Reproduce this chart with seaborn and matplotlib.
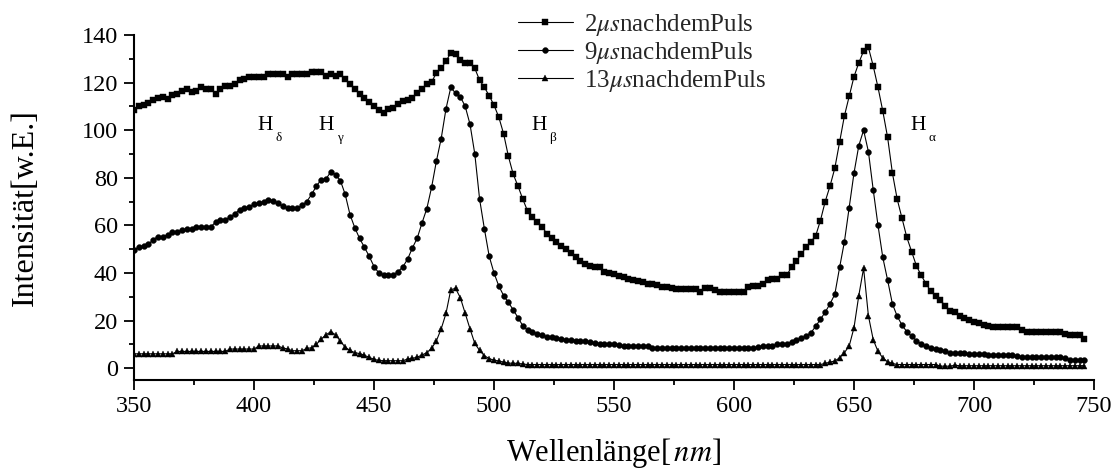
import numpy as np
import matplotlib
matplotlib.use("Agg")
import matplotlib.pyplot as plt
from matplotlib.ticker import MultipleLocator
import seaborn as sns

# Emission intensity [w.E.], 2 us after the pulse (one row = 10 nm, 2 nm steps)
intensity_2us = [
    108.5, 110.0, 110.4, 111.5, 112.8,   # 350
    113.5, 114.0, 113.3, 114.7, 115.4,   # 360
    116.5, 117.5, 116.0, 116.5, 118.0,   # 370
    117.5, 117.5, 115.4, 117.5, 118.5,   # 380
    118.5, 119.5, 121.0, 121.7, 122.4,   # 390
    122.4, 122.4, 122.4, 123.5, 123.5,   # 400
    123.5, 123.5, 122.4, 123.5, 123.5,   # 410
    123.5, 123.5, 124.4, 124.4, 124.4,   # 420
    122.7, 123.5, 122.7, 123.5, 121.5,   # 430
    119.5, 117.5, 115.0, 113.5, 112.0,   # 440
    110.3, 108.5, 107.3, 108.7, 109.5,   # 450
    111.0, 112.3, 112.5, 113.5, 115.5,   # 460
    117.5, 119.5, 120.3, 124.0, 126.0,   # 470
    129.0, 132.5, 132.2, 129.5, 128.3,   # 480
    128.3, 126.0, 121.0, 118.0, 114.5,   # 490
    110.5, 105.5, 98.5, 89.0, 81.5,      # 500
    76.5, 71.0, 66.0, 63.5, 61.5,        # 510
    59.5, 56.5, 54.5, 53.0, 51.5,        # 520
    50.0, 48.5, 46.7, 45.0, 43.8,        # 530
    43.0, 42.6, 42.3, 40.5, 40.1,        # 540
    39.5, 38.7, 38.1, 37.6, 37.1,        # 550
    36.6, 36.0, 35.3, 35.3, 34.9,        # 560
    34.2, 34.2, 33.5, 33.1, 33.1,        # 570
    33.1, 33.1, 33.1, 32.1, 33.5,        # 580
    33.5, 33.0, 32.1, 32.1, 32.1,        # 590
    32.1, 32.1, 32.1, 33.9, 34.5,        # 600
    34.5, 35.3, 37.0, 37.3, 37.3,        # 610
    39.1, 39.1, 42.5, 45.0, 48.0,        # 620
    50.7, 53.1, 55.5, 62.0, 70.0,        # 630
    76.5, 84.0, 95.0, 106.0, 114.3,      # 640
    122.5, 128.3, 133.3, 134.8, 127.0,   # 650
    118.0, 108.0, 97.0, 82.0, 71.0,      # 660
    63.0, 55.0, 49.0, 43.0, 39.0,        # 670
    35.5, 32.3, 30.3, 28.6, 26.1,        # 680
    24.2, 23.5, 22.0, 21.0, 20.4,        # 690
    19.5, 18.8, 18.1, 17.6, 17.4,        # 700
    17.4, 17.4, 17.4, 17.4, 17.4,        # 710
    16.2, 15.3, 15.3, 15.3, 15.3,        # 720
    15.3, 15.3, 15.3, 15.3, 14.5,        # 730
    13.8, 13.8, 13.8, 12.3,              # 740
]

# Emission intensity [w.E.], 9 us after the pulse
intensity_9us = [
    49.6, 51.0, 51.3, 52.0, 54.0,        # 350
    55.3, 55.2, 56.0, 57.0, 57.3,        # 360
    58.0, 58.3, 58.3, 59.2, 59.4,        # 370
    59.4, 59.4, 61.3, 62.2, 62.4,        # 380
    63.5, 64.8, 66.6, 67.1, 67.8,        # 390
    69.0, 69.2, 70.0, 70.6, 70.4,        # 400
    69.2, 68.0, 67.1, 67.1, 67.1,        # 410
    68.5, 70.0, 73.0, 76.5, 79.2,        # 420
    79.5, 82.5, 81.3, 78.8, 73.0,        # 430
    64.5, 59.0, 54.5, 50.8, 47.0,        # 440
    42.7, 40.0, 39.1, 39.1, 39.3,        # 450
    40.5, 42.5, 45.8, 50.5, 54.6,        # 460
    61.0, 67.0, 76.0, 87.0, 96.5,        # 470
    109.0, 118.0, 115.5, 114.0, 110.0,   # 480
    102.5, 90.0, 71.0, 58.5, 47.0,       # 490
    40.0, 34.5, 30.5, 27.6, 24.5,        # 500
    21.2, 17.8, 15.9, 15.2, 14.4,        # 510
    13.9, 13.1, 12.9, 12.8, 12.1,        # 520
    12.0, 12.0, 11.6, 11.5, 11.4,        # 530
    11.0, 10.5, 10.1, 10.1, 10.1,        # 540
    10.1, 9.7, 9.2, 9.2, 9.2,            # 550
    9.2, 9.2, 9.2, 8.3, 8.3,             # 560
    8.3, 8.3, 8.3, 8.3, 8.3,             # 570
    8.3, 8.3, 8.3, 8.3, 8.3,             # 580
    8.3, 8.3, 8.3, 8.3, 8.3,             # 590
    8.3, 8.3, 8.3, 8.3, 8.3,             # 600
    8.8, 9.2, 9.2, 9.2, 10.1,            # 610
    10.1, 10.1, 11.1, 11.8, 12.5,        # 620
    13.6, 14.8, 17.5, 20.5, 23.5,        # 630
    27.0, 31.0, 42.3, 53.1, 67.5,        # 640
    82.0, 93.5, 100.0, 91.0, 75.0,       # 650
    60.0, 46.5, 37.0, 27.0, 21.8,        # 660
    18.1, 15.3, 13.4, 11.6, 10.2,        # 670
    9.1, 8.4, 7.9, 7.4, 7.0,             # 680
    6.5, 6.4, 6.2, 6.2, 6.0,             # 690
    5.9, 5.9, 5.9, 5.7, 5.5,             # 700
    5.5, 5.5, 5.5, 5.5, 5.0,             # 710
    4.7, 4.7, 4.7, 4.7, 4.7,             # 720
    4.7, 4.7, 4.7, 4.7, 4.2,             # 730
    3.5, 3.5, 3.5, 3.5,                  # 740
]

# Emission intensity [w.E.], 13 us after the pulse
intensity_13us = [
    6.0, 6.0, 6.0, 6.0, 6.0,             # 350
    6.0, 6.0, 6.0, 6.0, 7.0,             # 360
    7.0, 7.0, 7.0, 7.0, 7.0,             # 370
    7.0, 7.0, 7.0, 7.0, 7.0,             # 380
    8.0, 8.0, 8.0, 8.0, 8.0,             # 390
    8.0, 9.3, 9.3, 9.3, 9.3,             # 400
    9.3, 8.5, 8.0, 7.3, 7.3,             # 410
    7.3, 8.3, 8.5, 10.0, 12.2,           # 420
    14.0, 15.3, 14.0, 11.3, 8.8,         # 430
    7.4, 6.5, 6.1, 5.4, 4.5,             # 440
    3.7, 3.2, 3.1, 3.1, 3.1,             # 450
    3.1, 3.1, 3.8, 4.1, 4.6,             # 460
    5.5, 6.5, 8.3, 11.5, 16.5,           # 470
    23.0, 33.0, 33.5, 29.5, 23.0,        # 480
    16.5, 10.4, 7.4, 5.2, 4.0,           # 490
    3.3, 3.0, 2.5, 2.1, 2.0,             # 500
    2.0, 1.7, 1.5, 1.5, 1.5,             # 510
    1.5, 1.5, 1.5, 1.5, 1.5,             # 520
    1.5, 1.5, 1.5, 1.5, 1.5,             # 530
    1.5, 1.5, 1.5, 1.5, 1.5,             # 540
    1.5, 1.5, 1.5, 1.5, 1.5,             # 550
    1.5, 1.5, 1.5, 1.5, 1.5,             # 560
    1.5, 1.5, 1.5, 1.5, 1.5,             # 570
    1.5, 1.5, 1.5, 1.5, 1.5,             # 580
    1.5, 1.5, 1.5, 1.5, 1.5,             # 590
    1.5, 1.5, 1.5, 1.5, 1.5,             # 600
    1.5, 1.5, 1.5, 1.5, 1.5,             # 610
    1.5, 1.5, 1.5, 1.5, 1.5,             # 620
    1.5, 1.5, 1.5, 1.5, 2.0,             # 630
    2.5, 3.0, 4.3, 6.5, 9.3,             # 640
    17.0, 30.5, 42.0, 22.0, 12.0,        # 650
    7.0, 4.3, 2.6, 2.0, 1.5,             # 660
    1.5, 1.5, 1.5, 1.5, 1.5,             # 670
    1.5, 1.5, 1.5, 0.8, 0.8,             # 680
    0.8, 1.2, 1.0, 1.0, 1.0,             # 690
    1.0, 1.0, 1.0, 1.0, 1.0,             # 700
    1.0, 1.0, 1.0, 1.0, 1.0,             # 710
    1.0, 1.0, 1.0, 1.0, 1.0,             # 720
    1.0, 1.0, 1.0, 1.0, 1.0,             # 730
    1.0, 1.0, 1.0, 1.0,                  # 740
]

# Wavelength grid of the spectrometer (nm), 2 nm steps from 350 nm
wavelength = 350 + 2 * np.arange(len(intensity_2us))

series_labels = [r"2$\mu s$nachdemPuls", r"9$\mu s$nachdemPuls", r"13$\mu s$nachdemPuls"]
series_markers = ["s", "o", "^"]
marker_sizes = [4.0, 4.2, 5.0]

# Balmer lines: symbol, subscript and position (nm, w.E.)
line_symbol = ["H", "H", "H", "H"]
line_subscripts = ["δ", "γ", "β", "α"]
line_x = [401.3, 427.0, 515.6, 673.5]
line_y = [100.0, 100.0, 100.0, 100.0]

sns.set_theme(style="ticks")
plt.rcParams["font.family"] = ["Liberation Serif", "DejaVu Serif"]
plt.rcParams["mathtext.fontset"] = "stix"

fig = plt.figure(figsize=(11.15, 4.71), dpi=100)
ax = fig.add_axes([134 / 1115, 1 - 380 / 471, 960 / 1115, 345 / 471])

for values, lab, mk, ms in zip([intensity_2us, intensity_9us, intensity_13us],
                               series_labels, series_markers, marker_sizes):
    sns.lineplot(x=wavelength, y=values, ax=ax, color="black", linewidth=0.8,
                 marker=mk, markersize=ms, markeredgecolor="black",
                 markeredgewidth=0.3, label=lab, legend=False, sort=False)

# Balmer line labels: "H" with a small subscript set below the baseline
for sym, sub, lx, ly in zip(line_symbol, line_subscripts, line_x, line_y):
    ax.text(lx, ly, sym, fontsize=15.5, ha="left", va="baseline", color="black")
    ax.annotate(sub, xy=(lx, ly), xytext=(13.0, -8.0), textcoords="offset points",
                fontsize=9.5, ha="left", va="baseline", color="black")

ax.set_xlim(350, 750)
ax.set_ylim(-5, 140)
ax.xaxis.set_major_locator(MultipleLocator(50))
ax.xaxis.set_minor_locator(MultipleLocator(25))
ax.yaxis.set_major_locator(MultipleLocator(20))
ax.yaxis.set_minor_locator(MultipleLocator(10))
ax.tick_params(axis="both", which="major", direction="out", length=7.2, width=1.3,
               labelsize=17.5, color="black", labelcolor="black", pad=4.5)
ax.tick_params(axis="both", which="minor", direction="out", length=3.6, width=1.3,
               color="black")

for side in ["top", "right"]:
    ax.spines[side].set_visible(False)
for side in ["left", "bottom"]:
    ax.spines[side].set_linewidth(1.5)
    ax.spines[side].set_color("black")

ax.set_xlabel(r"Wellenlänge[$\,nm$]", fontsize=22, color="black")
ax.set_ylabel("Intensität[w.E.]", fontsize=23, color="black")
ax.xaxis.set_label_coords(0.5, -0.162)
ax.yaxis.set_label_coords(-0.098, 0.5)

handles, labels = ax.get_legend_handles_labels()
fig.legend(handles, labels, loc="upper left", bbox_to_anchor=(515 / 1115, 0.98),
           frameon=False, fontsize=18, handlelength=2.2, handletextpad=0.45,
           labelspacing=0.08, borderpad=0.1, borderaxespad=0.0, numpoints=1)

fig.savefig("out.png", dpi=100)
